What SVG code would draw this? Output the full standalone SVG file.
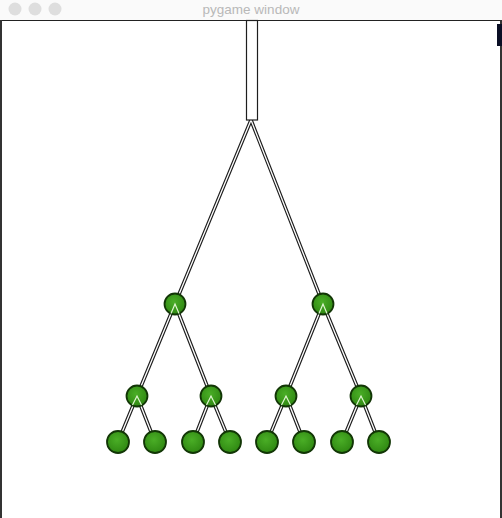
<svg xmlns="http://www.w3.org/2000/svg" width="502" height="518" viewBox="0 0 502 518">
<defs>
<style>
.edge-o{stroke:#1e1e1e;stroke-width:3.6;fill:none}
.edge-i{stroke:#ffffff;stroke-width:1.3;fill:none}
.node{stroke:#123606;stroke-width:1.8}
.inner{stroke:#dff5d0;stroke-width:1.2;fill:none}
.dot{fill:#dedede}
</style>
<radialGradient id="g" cx="0.45" cy="0.4" r="0.6">
<stop offset="0" stop-color="#4aae26"/>
<stop offset="1" stop-color="#2f8812"/>
</radialGradient>
</defs>
<rect x="0" y="0" width="502" height="518" fill="#ffffff"/>
<g id="titlebar">
<rect x="0" y="0" width="502" height="20" fill="#fafafa"/>
<circle class="dot" cx="15" cy="9" r="6.5"/>
<circle class="dot" cx="35" cy="9" r="6.5"/>
<circle class="dot" cx="55" cy="9" r="6.5"/>
<text x="251" y="14" text-anchor="middle" font-family="Liberation Sans, Arial, sans-serif" font-size="13.5" fill="#b8b8b8">pygame window</text>
<line x1="0" y1="20.5" x2="502" y2="20.5" stroke="#222" stroke-width="1"/>
<line x1="1" y1="20" x2="1" y2="518" stroke="#333" stroke-width="2"/>
<line x1="501" y1="20" x2="501" y2="518" stroke="#333" stroke-width="2"/>
<rect x="497" y="24" width="5" height="22" fill="#0a0f25"/>
</g>
<g id="connectors">
<path class="edge-o" d="M251 120L175 304M251 120L323 304M175 304L137 396M175 304L211 396M323 304L286 396M323 304L361 396M137 396L118 442M137 396L155 442M211 396L193 442M211 396L230 442M286 396L267 442M286 396L304 442M361 396L342 442M361 396L379 442"/>
<path class="edge-i" d="M251 120L175 304M251 120L323 304M175 304L137 396M175 304L211 396M323 304L286 396M323 304L361 396M137 396L118 442M137 396L155 442M211 396L193 442M211 396L230 442M286 396L267 442M286 396L304 442M361 396L342 442M361 396L379 442"/>
</g>
<g id="pole"><rect x="246.5" y="20.5" width="11" height="99.5" fill="#ffffff" stroke="#1e1e1e" stroke-width="1.2"/></g>
<g id="n1"><circle class="node" fill="url(#g)" cx="175" cy="304" r="10.5"/><path class="inner" d="M171 313.5L175 304L179 313.5"/></g>
<g id="n2"><circle class="node" fill="url(#g)" cx="323" cy="304" r="10.5"/><path class="inner" d="M319 313.5L323 304L327 313.5"/></g>
<g id="n3"><circle class="node" fill="url(#g)" cx="137" cy="396" r="10.5"/><path class="inner" d="M132.5 405L137 396L141.5 405"/></g>
<g id="n4"><circle class="node" fill="url(#g)" cx="211" cy="396" r="10.5"/><path class="inner" d="M206.5 405L211 396L215.5 405"/></g>
<g id="n5"><circle class="node" fill="url(#g)" cx="286" cy="396" r="10.5"/><path class="inner" d="M281.5 405L286 396L290.5 405"/></g>
<g id="n6"><circle class="node" fill="url(#g)" cx="361" cy="396" r="10.5"/><path class="inner" d="M356.5 405L361 396L365.5 405"/></g>
<g id="n7"><circle class="node" fill="url(#g)" cx="118" cy="442" r="11"/></g>
<g id="n8"><circle class="node" fill="url(#g)" cx="155" cy="442" r="11"/></g>
<g id="n9"><circle class="node" fill="url(#g)" cx="193" cy="442" r="11"/></g>
<g id="n10"><circle class="node" fill="url(#g)" cx="230" cy="442" r="11"/></g>
<g id="n11"><circle class="node" fill="url(#g)" cx="267" cy="442" r="11"/></g>
<g id="n12"><circle class="node" fill="url(#g)" cx="304" cy="442" r="11"/></g>
<g id="n13"><circle class="node" fill="url(#g)" cx="342" cy="442" r="11"/></g>
<g id="n14"><circle class="node" fill="url(#g)" cx="379" cy="442" r="11"/></g>
</svg>
